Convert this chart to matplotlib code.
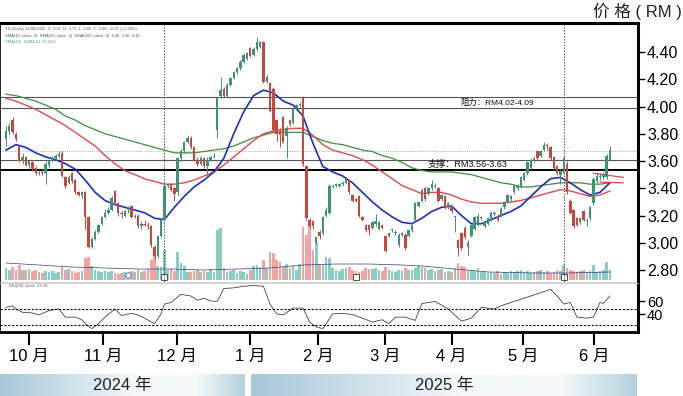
import matplotlib
matplotlib.use('Agg')
import matplotlib.pyplot as plt
import numpy as np
from matplotlib.colors import LinearSegmentedColormap

plt.rcParams['font.family'] = ['Liberation Sans', 'Noto Sans CJK SC', 'DejaVu Sans']

# ---------------- data ----------------
open_ = [3.76,3.82,3.90,3.80,3.71,3.60,3.63,3.57,3.59,3.55,
         3.51,3.52,3.51,3.57,3.60,3.62,3.64,3.66,3.48,3.44,
         3.51,3.46,3.37,3.35,3.37,3.19,2.97,3.03,3.08,3.14,
         3.19,3.22,3.24,3.38,3.29,3.22,3.20,3.24,3.27,3.19,
         3.20,3.12,3.14,3.13,3.12,2.97,2.90,3.05,3.17,3.42,
         3.43,3.40,3.37,3.62,3.67,3.74,3.77,3.70,3.61,3.58,
         3.62,3.56,3.61,3.63,3.83,4.08,4.13,4.08,4.16,4.21,
         4.25,4.28,4.33,4.35,4.43,4.38,4.42,4.44,4.47,4.18,
         4.17,4.13,3.90,3.82,3.92,3.78,3.90,3.88,3.99,4.01,
         4.06,3.56,3.17,3.16,3.00,3.08,3.07,3.20,3.22,3.41,
         3.42,3.42,3.43,3.44,3.46,3.35,3.32,3.34,3.19,3.13,
         3.13,3.11,3.14,3.10,3.13,3.05,3.05,3.09,3.07,2.98,
         3.06,3.06,3.05,3.09,3.17,3.27,3.31,3.40,3.36,3.40,
         3.41,3.40,3.32,3.34,3.26,3.27,3.19,3.02,3.07,3.11,
         2.97,3.05,3.10,3.13,3.18,3.12,3.14,3.17,3.21,3.20,
         3.20,3.26,3.30,3.32,3.37,3.40,3.41,3.46,3.51,3.55,
         3.60,3.67,3.64,3.68,3.72,3.70,3.63,3.56,3.50,3.51,
         3.58,3.31,3.24,3.18,3.15,3.23,3.16,3.18,3.29,3.45,
         3.48,3.48,3.48,3.61]
high_ = [3.86,3.88,3.92,3.81,3.72,3.66,3.64,3.61,3.60,3.56,
         3.53,3.54,3.60,3.61,3.64,3.65,3.67,3.67,3.49,3.50,
         3.52,3.47,3.38,3.38,3.38,3.20,3.04,3.09,3.14,3.20,
         3.25,3.26,3.34,3.39,3.30,3.23,3.24,3.27,3.28,3.21,
         3.21,3.16,3.17,3.15,3.13,2.98,3.06,3.18,3.43,3.44,
         3.44,3.41,3.63,3.69,3.75,3.79,3.78,3.71,3.63,3.64,
         3.63,3.63,3.64,3.66,4.06,4.22,4.14,4.17,4.22,4.26,
         4.29,4.34,4.39,4.40,4.44,4.44,4.51,4.48,4.48,4.23,
         4.18,4.14,3.91,3.84,3.93,3.86,3.91,3.99,4.02,4.03,
         4.08,3.57,3.18,3.17,3.05,3.09,3.20,3.26,3.43,3.43,
         3.44,3.44,3.45,3.48,3.47,3.36,3.33,3.35,3.20,3.14,
         3.14,3.16,3.21,3.16,3.14,3.06,3.08,3.11,3.09,3.07,
         3.08,3.07,3.10,3.14,3.30,3.31,3.40,3.41,3.41,3.46,
         3.44,3.41,3.36,3.35,3.30,3.28,3.20,3.03,3.08,3.12,
         3.02,3.14,3.20,3.22,3.20,3.16,3.19,3.23,3.23,3.21,
         3.26,3.31,3.36,3.35,3.43,3.43,3.49,3.52,3.60,3.62,
         3.63,3.68,3.68,3.74,3.73,3.71,3.64,3.57,3.54,3.64,
         3.60,3.32,3.25,3.19,3.19,3.24,3.18,3.27,3.48,3.51,
         3.51,3.52,3.65,3.71]
low_ = [3.71,3.80,3.80,3.75,3.59,3.58,3.56,3.55,3.53,3.50,
        3.50,3.50,3.43,3.55,3.59,3.61,3.62,3.48,3.40,3.43,
        3.44,3.36,3.34,3.33,3.10,2.96,2.96,3.02,3.07,3.13,
        3.18,3.21,3.23,3.28,3.20,3.18,3.19,3.22,3.18,3.18,
        3.11,3.10,3.12,3.10,2.97,2.88,2.89,3.04,3.16,3.40,
        3.38,3.31,3.35,3.60,3.66,3.73,3.69,3.60,3.56,3.57,
        3.55,3.50,3.60,3.62,3.77,4.06,4.07,4.07,4.15,4.20,
        4.24,4.27,4.32,4.34,4.36,4.37,4.41,4.43,4.17,4.17,
        3.96,3.82,3.75,3.70,3.73,3.62,3.86,3.87,3.98,4.00,
        3.56,3.17,3.11,3.10,2.99,3.03,3.06,3.19,3.21,3.40,
        3.41,3.41,3.42,3.43,3.36,3.30,3.30,3.19,3.16,3.08,
        3.06,3.10,3.12,3.09,3.10,2.93,3.04,3.08,3.06,2.97,
        3.05,2.95,3.04,3.08,3.16,3.26,3.30,3.31,3.35,3.39,
        3.40,3.30,3.31,3.25,3.25,3.22,3.08,2.90,2.95,3.03,
        2.91,3.04,3.09,3.12,3.17,3.11,3.13,3.16,3.20,3.16,
        3.19,3.25,3.29,3.31,3.36,3.39,3.40,3.45,3.50,3.54,
        3.59,3.61,3.63,3.67,3.68,3.61,3.54,3.50,3.43,3.50,
        3.36,3.21,3.11,3.12,3.14,3.16,3.12,3.17,3.28,3.44,
        3.46,3.47,3.47,3.60]
close_ = [3.82,3.86,3.81,3.76,3.60,3.63,3.57,3.60,3.54,3.51,
          3.52,3.51,3.58,3.60,3.63,3.64,3.65,3.49,3.42,3.48,
          3.45,3.37,3.35,3.37,3.19,2.97,3.03,3.08,3.13,3.19,
          3.22,3.24,3.33,3.29,3.22,3.21,3.23,3.26,3.19,3.20,
          3.12,3.14,3.13,3.12,2.98,2.90,3.05,3.17,3.42,3.43,
          3.39,3.36,3.62,3.67,3.74,3.77,3.70,3.61,3.58,3.62,
          3.56,3.61,3.63,3.64,4.06,4.12,4.08,4.16,4.21,4.25,
          4.28,4.33,4.38,4.39,4.37,4.42,4.47,4.47,4.18,4.22,
          3.97,3.83,3.80,3.79,3.74,3.84,3.87,3.98,4.01,4.02,
          3.58,3.18,3.12,3.12,3.04,3.05,3.19,3.24,3.42,3.42,
          3.43,3.43,3.44,3.47,3.37,3.31,3.31,3.20,3.17,3.09,
          3.09,3.15,3.16,3.15,3.11,2.94,3.07,3.10,3.08,3.06,
          3.07,2.96,3.09,3.13,3.29,3.30,3.39,3.32,3.40,3.43,
          3.42,3.31,3.35,3.26,3.29,3.23,3.19,2.96,2.96,3.04,
          3.00,3.13,3.19,3.20,3.19,3.15,3.18,3.22,3.22,3.17,
          3.25,3.30,3.35,3.34,3.42,3.42,3.48,3.51,3.59,3.61,
          3.62,3.62,3.67,3.72,3.71,3.62,3.55,3.51,3.53,3.62,
          3.37,3.22,3.12,3.13,3.18,3.17,3.17,3.26,3.47,3.49,
          3.49,3.50,3.64,3.68]
volume = [12,10,13,10,15,10,10,11,9,10,
          8,7,9,8,9,7,8,13,10,11,
          9,7,8,9,22,23,14,10,9,8,
          9,8,9,7,6,7,8,7,9,8,
          10,8,9,11,20,25,14,13,30,10,
          11,9,28,17,14,8,8,9,10,8,
          9,8,11,8,50,52,12,8,9,10,
          7,9,8,6,10,14,15,13,20,12,
          28,27,20,18,14,16,12,14,10,16,
          53,45,58,30,37,16,15,23,22,12,
          10,9,11,12,13,10,9,8,9,12,
          11,11,12,10,9,13,10,9,8,10,
          9,12,10,10,12,14,13,12,10,11,
          9,10,11,8,9,8,12,17,14,13,
          9,10,9,12,8,9,7,8,7,9,
          6,8,7,9,8,9,10,8,9,7,
          8,9,10,8,9,7,8,10,9,15,
          12,10,9,8,9,10,8,9,15,8,
          9,10,18,10]

ma_idx = list(range(0, 181, 3)) + [183]
ma_fast = [3.68,3.72,3.70,3.66,3.63,3.61,3.58,3.54,3.46,3.37,
           3.31,3.28,3.26,3.24,3.22,3.18,3.17,3.26,3.34,3.41,
           3.46,3.52,3.62,3.80,3.96,4.08,4.12,4.10,4.04,4.01,
           3.93,3.73,3.56,3.52,3.49,3.44,3.37,3.30,3.24,3.19,
           3.15,3.14,3.18,3.23,3.26,3.27,3.20,3.14,3.14,3.17,
           3.20,3.23,3.27,3.34,3.41,3.47,3.48,3.44,3.39,3.35,
           3.37,3.44]
ma_mid = [4.06,4.04,4.01,3.98,3.94,3.90,3.86,3.81,3.76,3.71,
          3.64,3.58,3.53,3.50,3.47,3.45,3.43,3.43,3.44,3.46,
          3.49,3.52,3.57,3.63,3.69,3.75,3.80,3.82,3.83,3.84,
          3.84,3.79,3.72,3.68,3.66,3.64,3.61,3.57,3.52,3.47,
          3.42,3.39,3.36,3.37,3.37,3.35,3.32,3.30,3.29,3.29,
          3.29,3.30,3.31,3.33,3.35,3.37,3.39,3.38,3.36,3.34,
          3.35,3.38]
ma_slow = [4.09,4.08,4.06,4.04,4.01,3.98,3.93,3.90,3.86,3.83,
           3.80,3.78,3.76,3.74,3.72,3.70,3.68,3.66,3.66,3.66,
           3.67,3.68,3.69,3.71,3.74,3.77,3.79,3.81,3.81,3.81,
           3.81,3.78,3.75,3.73,3.72,3.70,3.68,3.67,3.64,3.62,
           3.59,3.55,3.53,3.52,3.52,3.52,3.51,3.50,3.48,3.46,
           3.44,3.43,3.41,3.41,3.42,3.43,3.44,3.44,3.44,3.43,
           3.43,3.44]

vol_ma_idx = [0,10,20,30,40,50,60,70,80,90,100,110,120,126,136,146,160,170,183]
vol_ma = [17,15,13,12,11,11,10,11,12,15,16,16,15,14,11,8,7,7,8]

rsi_idx = [0,2,3,5,8,10,13,16,18,21,23,24,26,28,30,33,35,38,40,42,45,47,48,50,53,56,58,60,62,
           64,66,69,72,75,78,80,82,84,87,90,92,94,96,99,102,105,108,111,114,116,118,121,124,126,
           130,134,138,141,144,148,150,153,156,160,162,165,167,169,171,173,176,178,180,181,183]
rsi_val = [50.9,53.4,48.5,43.4,42.4,39.4,45.8,48.5,35.9,35.9,31.9,25.8,18.2,25.8,35.9,48.5,38.4,
           41.8,39.4,34.3,25.8,40.9,56.0,58.5,71.1,68.5,62.0,64.9,60.9,
           60.0,80.0,81.0,83.5,84.6,83.5,56.0,40.9,39.4,49.9,49.9,28.3,20.8,18.2,40.9,41.8,39.9,34.3,
           28.3,31.9,25.8,35.9,35.9,30.8,56.9,
           60.0,48.5,29.7,34.3,50.9,48.5,53.4,58.5,63.5,70.1,73.5,78.6,68.5,56.0,58.5,35.9,34.3,35.9,
           58.5,57.0,68.5]
rsi_levels = [48.5, 24.0]

resistance_lines = [4.07, 3.99]
support_lines = [3.61, 3.535]
last_close_line = 3.675
event_days = [48, 169]
extra_idx = [[178, 187], [180, 187]]
extra_val = [[3.51, 3.48], [3.445, 3.44]]

price_ticks = [2.80, 3.00, 3.20, 3.40, 3.60, 3.80, 4.00, 4.20, 4.40]
rsi_ticks = [60, 40]
month_pos = [7, 29.4, 51.8, 73.9, 94.5, 114.8, 135, 156.7, 178.2]
month_labels = ['10 月', '11 月', '12 月', '1 月', '2 月', '3 月', '4 月', '5 月', '6 月']
years = ['2024 年', '2025 年']

# ---------------- styling ----------------
GREEN = '#3f9273'
RED = '#c9463e'
VGREEN = '#8ccdc2'
VRED = '#f3a4a2'

W, H = 683, 396
fig = plt.figure(figsize=(W / 100, H / 100), dpi=100)
fig.patch.set_facecolor('white')

def fx(px):
    return px / W

def fy(py):
    return 1 - py / H

XMIN, XMAX = -1.82, 191.5

# main price panel
ax = fig.add_axes([0, fy(282), fx(638), (282 - 23) / H])
axv = ax.twinx()
axv.set_zorder(ax.get_zorder() - 1)
ax.patch.set_visible(False)
axv.patch.set_facecolor('white')

idx = np.arange(len(close_))
o = np.array(open_); c = np.array(close_); h = np.array(high_); l = np.array(low_)
up = c >= o
col = np.where(up, GREEN, RED)
vcol = np.where(up, VGREEN, VRED)

axv.bar(idx, volume, width=0.8, color=vcol, linewidth=0)
axv.plot(vol_ma_idx, vol_ma, color='#34407a', lw=0.5)
axv.plot([37], [5], marker='o', ms=4, mfc='white', mec='#4a6fb5', mew=0.7, ls='none')
for d in [48, 106, 169]:
    axv.plot([d], [3], marker='s', ms=4, mfc='white', mec='#333333', mew=0.6, ls='none')
axv.set_ylim(-2, 257)
axv.set_yticks([])
for s in axv.spines.values():
    s.set_visible(False)

# horizontal reference lines
for v in resistance_lines:
    ax.axhline(v, color='#555555', lw=0.8, zorder=1)
ax.axhline(support_lines[0], color='#555555', lw=0.8, zorder=1)
ax.axhline(support_lines[1], color='black', lw=1.4, zorder=1)
ax.axhline(last_close_line, color='#999999', lw=0.6, ls=(0, (1, 1.5)), zorder=1)
for d in event_days:
    ax.axvline(d, color='#555555', lw=0.7, ls=(0, (1.5, 1.5)), zorder=1)

# moving averages
ax.plot(ma_idx, ma_slow, color='#3d8f3d', lw=0.9, zorder=2)
ax.plot(ma_idx, ma_mid, color='#e04a4f', lw=1.0, zorder=2)
ax.plot(ma_idx, ma_fast, color='#1c2fc0', lw=1.2, zorder=2)
for xs, ys in zip(extra_idx, extra_val):
    ax.plot(xs, ys, color='#e04a4f', lw=0.9, zorder=2)

# candles
ax.vlines(idx, l, h, colors=col, lw=0.7, zorder=3)
body_b = np.minimum(o, c)
body_h = np.maximum(np.abs(c - o), 0.006)
ax.bar(idx, body_h, bottom=body_b, width=0.72, color=col, linewidth=0, zorder=4)

ax.text(137.5, 4.03, '阻力：RM4.02-4.09', fontsize=6, color='#111111', va='center', zorder=5)
ax.text(127.8, 3.572, '支撑：RM3.56-3.63', fontsize=6.6, color='#111111', va='center', zorder=5)

ax.set_xlim(XMIN, XMAX)
axv.set_xlim(XMIN, XMAX)
ax.set_ylim(2.712, 4.613)
ax.set_xticks([])
ax.yaxis.tick_right()
ax.set_yticks(price_ticks)
ax.set_yticklabels([f'{t:.2f}' for t in price_ticks])
ax.tick_params(axis='y', right=True, left=False, length=5, width=1, pad=1.5,
               labelsize=11.5, colors='black')
for side in ['top', 'right', 'left']:
    ax.spines[side].set_color('black')
ax.spines['top'].set_linewidth(2.2)
ax.spines['right'].set_linewidth(2.2)
ax.spines['left'].set_linewidth(1.2)
ax.spines['bottom'].set_color('#cccccc')
ax.spines['bottom'].set_linewidth(0.6)

# header micro text
fig.text(fx(5), fy(29), 'TG (Daily) 24/06/2025  O: 3.61  H: 3.71  L: 3.60  C: 3.68  +0.07 (+1.94%)',
         fontsize=3, color='#555555', va='center')
fig.text(fx(5), fy(35.5), 'SMA(10, close, 0)  SMA(50, close, 0)  SMA(100, close, 0)  3.45  3.40  3.43',
         fontsize=3, color='#555555', va='center')
fig.text(fx(5), fy(42), 'VMA(20)  11084.52  55.31%', fontsize=3, color='#4a9a8a', va='center')

# RSI panel
ax2 = fig.add_axes([0, fy(332), fx(638), (332 - 283) / H])
ax2.plot(rsi_idx, rsi_val, color='#444444', lw=0.6)
for v in rsi_levels:
    ax2.axhline(v, color='black', lw=0.8, ls=(0, (2, 1.5)))
ax2.text(1, 84, 'RSI(14)  close  59.39', fontsize=3, color='#555555', va='center')
ax2.set_xlim(XMIN, XMAX)
ax2.set_ylim(13, 88.5)
ax2.yaxis.tick_right()
ax2.set_yticks(rsi_ticks)
ax2.set_yticklabels([str(t) for t in rsi_ticks])
ax2.tick_params(axis='y', right=True, left=False, length=5, width=1, pad=1.5, labelsize=10.5)
ax2.set_xticks(month_pos)
ax2.set_xticklabels(month_labels)
ax2.tick_params(axis='x', bottom=True, length=9.5, width=1.5, pad=3, labelsize=12)
for side in ['left', 'right', 'bottom']:
    ax2.spines[side].set_color('black')
ax2.spines['right'].set_linewidth(2.2)
ax2.spines['bottom'].set_linewidth(2.0)
ax2.spines['left'].set_linewidth(1.2)
ax2.spines['top'].set_color('#cccccc')
ax2.spines['top'].set_linewidth(0.6)

# year bands
cmap = LinearSegmentedColormap.from_list('band', [(0, '#a8c7d9'), (0.55, '#f3f8fa'),
                                                  (0.8, '#f6fafb'), (1, '#b5d0de')])
grad = np.linspace(0, 1, 256).reshape(1, -1)
for (x0, x1), label in zip([(0, 245), (251, 637)], years):
    bax = fig.add_axes([fx(x0), 0, fx(x1 - x0), 22 / H])
    bax.imshow(grad, aspect='auto', cmap=cmap, extent=[0, 1, 0, 1])
    bax.set_axis_off()
    bax.text(0.5, 0.5, label, ha='center', va='center', fontsize=12, color='#222222')

fig.text(0.998, fy(11), '价 格 ( RM )', ha='right', va='center', fontsize=12, color='#222222')

fig.savefig('out.png', dpi=100, facecolor='white')
